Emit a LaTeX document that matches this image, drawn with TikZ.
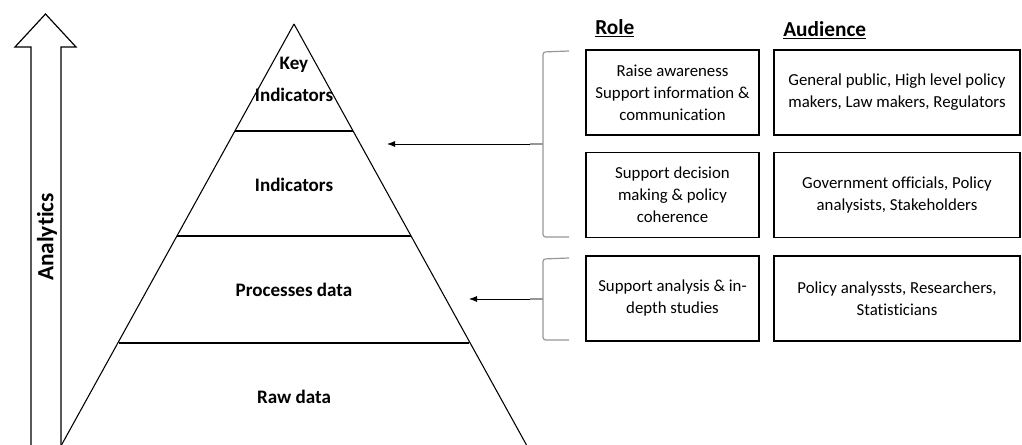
\documentclass[tikz,border=0pt]{standalone}
\usepackage{fontspec}
\setmainfont{Carlito}[Ligatures={NoCommon}]
\usetikzlibrary{arrows.meta}
\definecolor{bracketgray}{RGB}{150,150,150}
\tikzset{
  rolebox/.style={draw, line width=0.9pt, minimum width=129.75pt, minimum height=63.75pt, align=center, inner sep=1pt, font=\fontsize{12.6}{16.5}\selectfont},
  audbox/.style={rolebox, minimum width=184.5pt},
  levellabel/.style={font=\fontsize{14.3}{18}\selectfont\bfseries, align=center, inner sep=0.75pt},
  header/.style={font=\fontsize{16}{18}\selectfont\bfseries, inner sep=0.75pt},
  bracketline/.style={draw=bracketgray, line width=0.9pt, rounded corners=2pt},
  pointer/.style={-{Latex[length=6pt,width=4.5pt]}, line width=0.6pt}
}
\begin{document}
\begin{tikzpicture}[x=0.75pt,y=0.75pt,yscale=-1,xscale=1]
\useasboundingbox (0,0) rectangle (1022,445);

%Shape: Up Arrow (analytics)
\draw [line width=0.9pt] (31,446) -- (31,47) -- (15,47) -- (45.5,14) -- (76,47) -- (61,47) -- (61,446) ;
\draw (47,237) node [rotate=90, header, font=\fontsize{17.5}{18}\selectfont\bfseries] {Analytics};

%Pyramid sides
\coordinate (apex) at (294,24);
\draw [line width=0.8pt] (apex) -- (61.5,445) ;
\draw [line width=0.8pt] (apex) -- (526.5,445) ;
%Pyramid levels
\coordinate (l1w) at (235,131); \coordinate (l1e) at (353,131);
\coordinate (l2w) at (177,236); \coordinate (l2e) at (411,236);
\coordinate (l3w) at (119,343); \coordinate (l3e) at (469,343);
\draw [line width=0.9pt] (l1w) -- (l1e) ;
\draw [line width=0.9pt] (l2w) -- (l2e) ;
\draw [line width=0.9pt] (l3w) -- (l3e) ;

% Level labels
\node [levellabel] (keyind) at (294,79) {Key\\[6pt]Indicators};
\node [levellabel] (ind) at (294,185) {Indicators};
\node [levellabel] (proc) at (294,290) {Processes data};
\node [levellabel] (raw) at (294,397) {Raw data};

% Headers
\node [header, anchor=west] (role) at (594,28) {\underline{Role}};
\node [header, anchor=west] (aud) at (782,30) {\underline{Audience}};

% Boxes
\node [rolebox] (role1) at (672.5,92.5) {Raise awareness\\Support information \&\\communication};
\node [audbox] (aud1) at (897,92.5) {General public, High level policy\\makers, Law makers, Regulators};
\node [rolebox] (role2) at (672.5,195) {Support decision\\making \& policy\\coherence};
\node [audbox] (aud2) at (897,195) {Government officials, Policy\\analysists, Stakeholders};
\node [rolebox] (role3) at (672.5,298.5) {Support analysis \& in-\\depth studies};
\node [audbox] (aud3) at (897,298.5) {Policy analyssts, Researchers,\\Statisticians};

% Brackets
\draw [bracketline] (569,51) -- (543,52) -- (543,237) -- (569,237) ;
\draw [bracketline] (569,258) -- (543,259) -- (543,340) -- (569,340) ;
\coordinate (brk1) at (530,144);
\coordinate (brk2) at (530,299);
\draw [draw=bracketgray, line width=0.9pt] (543,144) -- (brk1) ;
\draw [draw=bracketgray, line width=0.9pt] (543,299) -- (brk2) ;

% Pointers to pyramid
\coordinate (tip1) at (387,144);
\coordinate (tip2) at (469,299);
\draw [pointer] (brk1) -- (tip1) ;
\draw [pointer] (brk2) -- (tip2) ;
\end{tikzpicture}
\end{document}
